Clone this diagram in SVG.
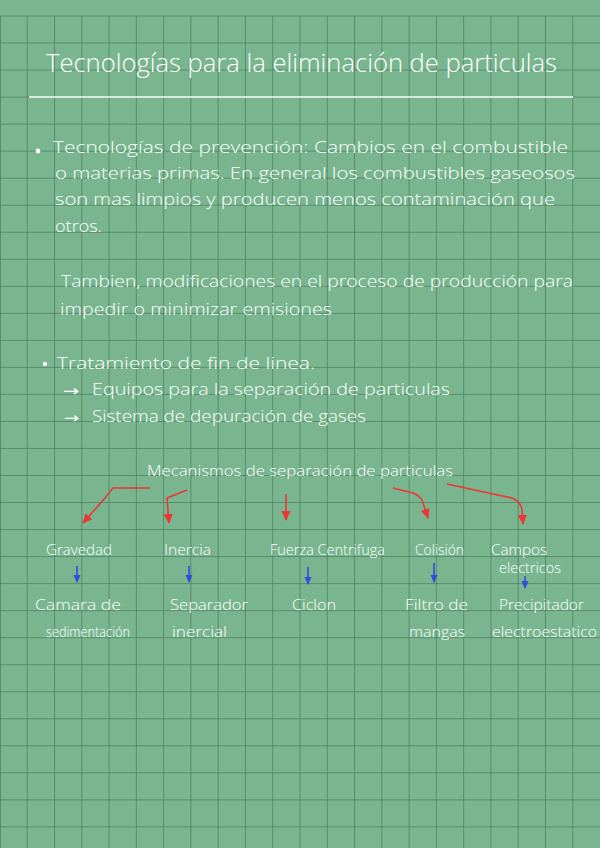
<svg xmlns="http://www.w3.org/2000/svg" width="600" height="848" viewBox="0 0 600 848">
<defs>
<style>
.bg{fill:#79b68f}
.grid{stroke:#4e7f60;stroke-width:1;fill:none;opacity:0.75}
text{font-family:"Open Sans","Liberation Sans",sans-serif;font-weight:300;fill:#ffffff}
.title{font-size:26px}
.body{font-size:17px}
.lbl{font-size:15px}
.arr{font-family:"DejaVu Sans",sans-serif;font-weight:normal;font-size:15px}
.red{stroke:#ee3535;stroke-width:1.6;fill:none;marker-end:url(#ar)}
.blue{stroke:#2b4fe0;stroke-width:1.6;fill:none;marker-end:url(#ab)}
.wline{stroke:#ffffff;stroke-width:1.4;fill:none}
</style>
<marker id="ar" markerUnits="userSpaceOnUse" markerWidth="10" markerHeight="10" refX="9" refY="5" orient="auto">
<path d="M0,0.5 L10,5 L0,9.5 z" fill="#ee3535"/>
</marker>
<marker id="ab" markerUnits="userSpaceOnUse" markerWidth="8" markerHeight="8" refX="7" refY="4" orient="auto">
<path d="M0,0.5 L8,4 L0,7.5 z" fill="#2b4fe0"/>
</marker>
</defs>
<rect class="bg" x="0" y="0" width="600" height="848"/>
<path class="grid" d="M0.5 16V848M27.27 16V848M54.55 16V848M81.82 16V848M109.09 16V848M136.36 16V848M163.64 16V848M190.91 16V848M218.18 16V848M245.45 16V848M272.73 16V848M300 16V848M327.27 16V848M354.55 16V848M381.82 16V848M409.09 16V848M436.36 16V848M463.64 16V848M490.91 16V848M518.18 16V848M545.45 16V848M572.73 16V848M0 16H600M0 43.03H600M0 70.06H600M0 97.09H600M0 124.12H600M0 151.15H600M0 178.18H600M0 205.21H600M0 232.24H600M0 259.27H600M0 286.3H600M0 313.33H600M0 340.36H600M0 367.39H600M0 394.42H600M0 421.45H600M0 448.48H600M0 475.51H600M0 502.54H600M0 529.57H600M0 556.6H600M0 583.63H600M0 610.66H600M0 637.69H600M0 664.72H600M0 691.75H600M0 718.78H600M0 745.81H600M0 772.84H600M0 799.87H600M0 826.9H600"/>

<g id="title">
<text class="title" x="46" y="72" textLength="511" lengthAdjust="spacingAndGlyphs">Tecnologías para la eliminación de particulas</text>
<line class="wline" x1="29" y1="97" x2="573" y2="97" stroke-width="1.6"/>
</g>

<g id="prevencion">
<circle cx="38" cy="151" r="2.4" fill="#ffffff"/>
<text class="body" x="53" y="153" textLength="515" lengthAdjust="spacingAndGlyphs">Tecnologías de prevención: Cambios en el combustible</text>
<text class="body" x="55" y="179" textLength="520" lengthAdjust="spacingAndGlyphs">o materias primas. En general los combustibles gaseosos</text>
<text class="body" x="55" y="205" textLength="500" lengthAdjust="spacingAndGlyphs">son mas limpios y producen menos contaminación que</text>
<text class="body" x="55" y="232" textLength="47" lengthAdjust="spacingAndGlyphs">otros.</text>
</g>

<g id="tambien">
<text class="body" x="61" y="287" textLength="512" lengthAdjust="spacingAndGlyphs">Tambien, modificaciones en el proceso de producción para</text>
<text class="body" x="60" y="315" textLength="272" lengthAdjust="spacingAndGlyphs">impedir o minimizar emisiones</text>
</g>

<g id="tratamiento">
<circle cx="45" cy="364" r="2.2" fill="#ffffff"/>
<text class="body" x="57" y="369" textLength="258" lengthAdjust="spacingAndGlyphs">Tratamiento de fin de linea.</text>
<text class="arr" x="63" y="396" textLength="16" lengthAdjust="spacingAndGlyphs">→</text>
<text class="body" x="92" y="395" textLength="358" lengthAdjust="spacingAndGlyphs">Equipos para la separación de particulas</text>
<text class="arr" x="64" y="423" textLength="15" lengthAdjust="spacingAndGlyphs">→</text>
<text class="body" x="92" y="422" textLength="274" lengthAdjust="spacingAndGlyphs">Sistema de depuración de gases</text>
</g>

<g id="mecanismos">
<text class="lbl" x="147" y="476" textLength="306" lengthAdjust="spacingAndGlyphs">Mecanismos de separación de particulas</text>
</g>

<g id="gravedad"><text class="lbl" x="46" y="555" textLength="66" lengthAdjust="spacingAndGlyphs">Gravedad</text></g>
<g id="inercia"><text class="lbl" x="164" y="555" textLength="47" lengthAdjust="spacingAndGlyphs">Inercia</text></g>
<g id="centrifuga"><text class="lbl" x="270" y="555" textLength="115" lengthAdjust="spacingAndGlyphs">Fuerza Centrifuga</text></g>
<g id="colision"><text class="lbl" x="415" y="555" textLength="49" lengthAdjust="spacingAndGlyphs">Colisión</text></g>
<g id="campos">
<text class="lbl" x="491" y="555" textLength="56" lengthAdjust="spacingAndGlyphs">Campos</text>
<text class="lbl" x="499" y="573" textLength="62" lengthAdjust="spacingAndGlyphs">electricos</text>
</g>

<g id="camara">
<text class="lbl" x="35" y="610" textLength="86" lengthAdjust="spacingAndGlyphs">Camara de</text>
<text class="lbl" x="46" y="637" textLength="84" lengthAdjust="spacingAndGlyphs">sedimentación</text>
</g>
<g id="separador">
<text class="lbl" x="170" y="610" textLength="78" lengthAdjust="spacingAndGlyphs">Separador</text>
<text class="lbl" x="172" y="637" textLength="55" lengthAdjust="spacingAndGlyphs">inercial</text>
</g>
<g id="ciclon"><text class="lbl" x="292" y="610" textLength="44" lengthAdjust="spacingAndGlyphs">Ciclon</text></g>
<g id="filtro">
<text class="lbl" x="405" y="610" textLength="63" lengthAdjust="spacingAndGlyphs">Filtro de</text>
<text class="lbl" x="409" y="637" textLength="56" lengthAdjust="spacingAndGlyphs">mangas</text>
</g>
<g id="precipitador">
<text class="lbl" x="499" y="610" textLength="85" lengthAdjust="spacingAndGlyphs">Precipitador</text>
<text class="lbl" x="492" y="637" textLength="105" lengthAdjust="spacingAndGlyphs">electroestatico</text>
</g>

<g id="connectors">
<path class="red" d="M150,488 H113 L105,498 L83,523"/>
<path class="red" d="M187,490 L167,498 L169,523"/>
<path class="red" d="M286,494 V520"/>
<path class="red" d="M393,488 L413,493 Q421,496 423,503 L428,518"/>
<path class="red" d="M447,484 L512,498 Q521,502 522,510 L523,524"/>
<path class="blue" d="M77,566 V582"/>
<path class="blue" d="M189,566 V582"/>
<path class="blue" d="M308,567 V584"/>
<path class="blue" d="M434,563 V582"/>
<path class="blue" d="M525,576 V588"/>
</g>
</svg>
